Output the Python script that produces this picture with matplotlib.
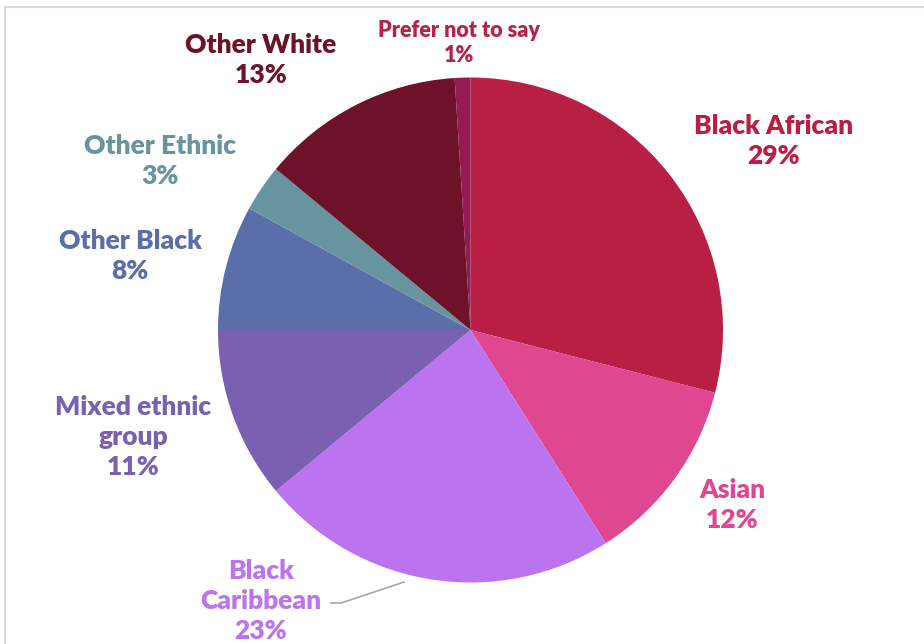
import matplotlib.pyplot as plt
from matplotlib.patches import Rectangle

# data, clockwise from 12 o'clock
categories = ["Black African", "Asian", "Black Caribbean", "Mixed ethnic group",
              "Other Black", "Other Ethnic", "Other White", "Prefer not to say"]
shares = [29, 12, 23, 11, 8, 3, 13, 1]
label_text = ["Black African", "Asian", "Black\nCaribbean", "Mixed ethnic\ngroup",
              "Other Black", "Other Ethnic", "Other White", "Prefer not to say"]

slice_colors = ["#B91E45", "#DF4890", "#BB73EF", "#7960B0",
                "#5A6FAA", "#6894A0", "#6D1229", "#931A52"]
text_colors = ["#B91E45", "#DF4890", "#BB73EF", "#7960B0",
               "#5A6FAA", "#6894A0", "#6D1229", "#B8224A"]

# label centres in pixel coords (x, y from top)
label_pos = [(774, 141), (732, 505), (261, 601), (133, 437),
             (130, 256), (160, 161), (261, 60), (459, 43)]
label_size = [19, 19, 19, 19, 19, 19, 19, 15.5]

W, H = 924, 644
fig = plt.figure(figsize=(W / 100, H / 100), dpi=100)
ax = fig.add_axes([0, 0, 1, 1])

# chart frame
ax.add_patch(Rectangle((5, -10), W + 20, H - 7 + 10, fill=False,
                       edgecolor="#D9D9D9", linewidth=1.5))

ax.pie(shares, colors=slice_colors, startangle=90, counterclock=False,
       center=(470.5, H - 330), radius=252.5, frame=True,
       wedgeprops={"linewidth": 0})
ax.set_xlim(0, W)
ax.set_ylim(0, H)
ax.set_aspect("equal")
ax.axis("off")

for txt, val, (x, y), col, fs in zip(label_text, shares, label_pos, text_colors, label_size):
    ax.text(x, H - y, f"{txt}\n{val}%", ha="center", va="center", color=col,
            fontsize=fs, fontweight="heavy", family="Lato", linespacing=1.28)

# leader line for Black Caribbean
ax.plot([331, 341, 404], [H - 603, H - 603, H - 582], color="#A6A6A6", linewidth=1.2)

fig.savefig("out.png", dpi=100)
